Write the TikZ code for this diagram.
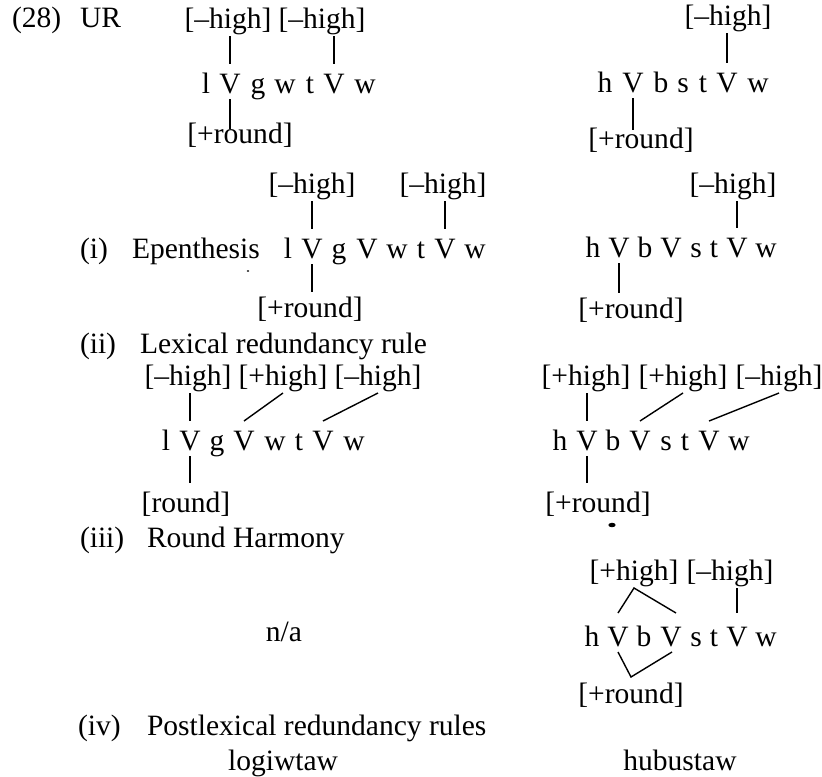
\documentclass[tikz,border=0pt]{standalone}
\usepackage{fontspec}
\setmainfont{Liberation Serif}
\usetikzlibrary{calc}
\begin{document}
\begin{tikzpicture}[x=0.25mm, y=-0.25mm,
  every node/.style={font=\fontsize{21}{25}\selectfont, inner sep=0pt, outer sep=0pt},
  lbl/.style={anchor=base west},
  word/.style={anchor=base},
  seg/.style={anchor=base, text height=7.25mm, text depth=1.5mm},
  feat/.style={anchor=base, text height=4mm, text depth=2mm},
  rnd/.style={anchor=base, text height=#1, text depth=1mm},
  assoc/.style={line width=1pt, line cap=butt}]
\useasboundingbox (0,0) rectangle (822,777);

% ---------- (28) UR ----------
\node[lbl] (num) at (12,27) {(28)};
\node[lbl] (ur)  at (80,27) {UR};

% left form
\node[feat] (fa1) at (228,28) {[–high]};
\node[feat] (fa2) at (322,28) {[–high]};
\foreach \c/\x/\n in {l/206/a1, V/230/a2, g/258/a3, w/285/a4, t/310/a5, V/334/a6, w/365/a7}
  \node[seg] (\n) at (\x,93) {\c};
\node[rnd=3.6mm] (ra) at (240,143) {[+round]};
\draw[assoc] (fa1.south -| a2) -- (a2.north);
\draw[assoc] (fa2.south -| a6) -- (a6.north);
\draw[assoc] (a2.south) -- (a2.south |- ra.north);

% right form
\node[feat] (fA1) at (728,25) {[–high]};
\foreach \c/\x/\n in {h/605/A1, V/633/A2, b/661/A3, s/683/A4, t/703/A5, V/727/A6, w/758/A7}
  \node[seg] (\n) at (\x,92) {\c};
\node[rnd=4.5mm] (rA) at (641,148) {[+round]};
\draw[assoc] (fA1.south -| A6) -- (A6.north);
\draw[assoc] (A2.south) -- (A2.south |- rA.north);

% ---------- (i) Epenthesis ----------
\node[lbl] (ni)  at (80,258)  {(i)};
\node[lbl] (epe) at (132,258) {Epenthesis};

\node[feat] (fb1) at (312,193) {[–high]};
\node[feat] (fb2) at (443,193) {[–high]};
\foreach \c/\x/\n in {l/288/b1, V/312/b2, g/339/b3, V/367/b4, w/397/b5, t/421/b6, V/445/b7, w/475/b8}
  \node[seg] (\n) at (\x,258) {\c};
\node[rnd=6.25mm] (rb) at (310,317) {[+round]};
\draw[assoc] (fb1.south -| b2) -- (b2.north);
\draw[assoc] (fb2.south -| b7) -- (b7.north);
\draw[assoc] (b2.south) -- (b2.south |- rb.north);

\node[feat] (fB1) at (733,193) {[–high]};
\foreach \c/\x/\n in {h/593/B1, V/619/B2, b/645/B3, V/671/B4, s/696/B5, t/714/B6, V/737/B7, w/766/B8}
  \node[seg] (\n) at (\x,257) {\c};
\node[rnd=6.25mm] (rB) at (631,318) {[+round]};
\draw[assoc] (fB1.south -| B7) -- (B7.north);
\draw[assoc] (B2.south) -- (B2.south |- rB.north);

% ---------- (ii) Lexical redundancy rule ----------
\node[lbl] (nii) at (80,353)  {(ii)};
\node[lbl] (lex) at (140,353) {Lexical redundancy rule};

\node[feat] (fc1) at (188,385) {[–high]};
\node[feat] (fc2) at (283,385) {[+high]};
\node[feat] (fc3) at (378,385) {[–high]};
\foreach \c/\x/\n in {l/166/c1, V/190/c2, g/217/c3, V/244/c4, w/275/c5, t/299/c6, V/323/c7, w/354/c8}
  \node[seg] (\n) at (\x,450) {\c};
\node[rnd=7.25mm] (rc) at (186,512) {[round]};
\draw[assoc] (fc1.south -| c2) -- (c2.north);
\draw[assoc] (fc2.south) -- (c4.north);
\draw[assoc] (fc3.south) -- (c7.north);
\draw[assoc] (c2.south) -- (c2.south |- rc.north);

\node[feat] (fC1) at (586,385) {[+high]};
\node[feat] (fC2) at (683,385) {[+high]};
\node[feat] (fC3) at (779,385) {[–high]};
\foreach \c/\x/\n in {h/560/C1, V/587/C2, b/613/C3, V/640/C4, s/666/C5, t/685/C6, V/709/C7, w/739/C8}
  \node[seg] (\n) at (\x,450) {\c};
\node[rnd=7.25mm] (rC) at (598,512) {[+round]};
\draw[assoc] (fC1.south -| C2) -- (C2.north);
\draw[assoc] (fC2.south) -- (C4.north);
\draw[assoc] (fC3.south) -- (C7.north);
\draw[assoc] (C2.south) -- (C2.south |- rC.north);

% specks of ink
\fill (612,525) ellipse [x radius=0.9mm, y radius=0.55mm];
\fill (248,271) ellipse [x radius=0.35mm, y radius=0.2mm];

% ---------- (iii) Round Harmony ----------
\node[lbl] (niii) at (80,547)  {(iii)};
\node[lbl] (rh)   at (147,547) {Round Harmony};
\node[word] (na)  at (284,641) {n/a};

\node[feat] (fD1) at (634,580) {[+high]};
\node[feat] (fD2) at (730,580) {[–high]};
\foreach \c/\x/\n in {h/592/D1, V/618/D2, b/644/D3, V/671/D4, s/696/D5, t/714/D6, V/737/D7, w/766/D8}
  \node[seg] (\n) at (\x,646) {\c};
\node[rnd=6.5mm] (rD) at (631,703) {[+round]};
\draw[assoc] ($(D2.north)+(0,-4)$) -- (fD1.south) -- ($(D4.north)+(5,-4)$);
\draw[assoc] (fD2.south -| D7) -- ($(D7.north)+(0,-4)$);
\draw[assoc] (D2.south) -- (rD.north) -- ($(D4.south)+(1,0)$);

% ---------- (iv) Postlexical redundancy rules ----------
\node[lbl] (niv)  at (78,735)  {(iv)};
\node[lbl] (post) at (147,735) {Postlexical redundancy rules};
\node[word] (outl) at (283,770) {logiwtaw};
\node[word] (outr) at (680,770) {hubustaw};
\end{tikzpicture}
\end{document}
